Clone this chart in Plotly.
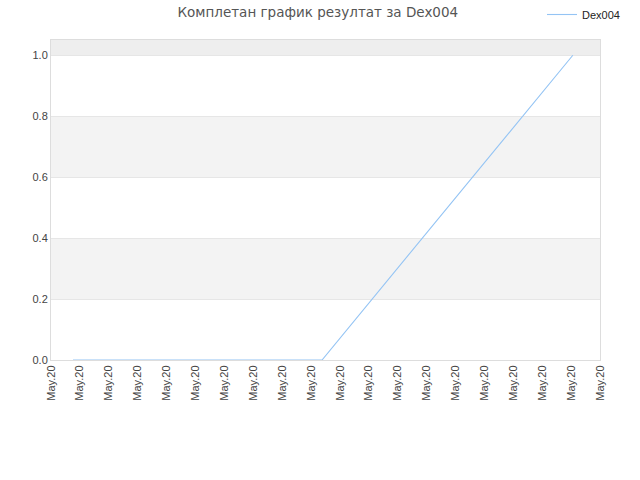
import plotly.graph_objects as go

tick_labels = ["May.20"] * 20
tick_positions = list(range(20))
series_x = [0.76, 9.38, 18.06]
series_y = [0.0, 0.0, 1.0]
series_name = "Dex004"
title_text = "Комплетан график резултат за Dex004"

fig = go.Figure()
fig.add_trace(go.Scatter(x=series_x, y=series_y, mode="lines", name=series_name,
                         line=dict(color="#94c4f4", width=1.1)))

bands = [(0.2, 0.4, "#f3f3f3"), (0.6, 0.8, "#f3f3f3"), (1.0, 1.05, "#eeeeee")]
for y0, y1, c in bands:
    fig.add_shape(type="rect", xref="paper", yref="y", x0=0, x1=1, y0=y0, y1=y1,
                  fillcolor=c, line_width=0, layer="below")

W, H = 640, 480
fig.update_layout(
    width=W, height=H,
    margin=dict(l=51, r=40, t=40, b=120, autoexpand=False),
    paper_bgcolor="white", plot_bgcolor="white",
    font=dict(family="Liberation Sans", size=11, color="#444"),
    title=dict(text=title_text, x=0.486, xanchor="center", xref="paper",
               y=1 - 12 / H, yanchor="middle",
               font=dict(family="DejaVu Sans", size=13.5, color="#555")),
    showlegend=True,
    legend=dict(xref="container", yref="container", x=542 / W, xanchor="left",
                y=1 + 5 / H, yanchor="top",
                font=dict(size=11, color="#222"), bgcolor="rgba(0,0,0,0)", itemwidth=30),
    xaxis=dict(range=[0, 19], tickvals=tick_positions, ticktext=tick_labels, tickangle=-90,
               showgrid=False, zeroline=False, showline=True, linecolor="#dddddd", mirror=True,
               ticks="", fixedrange=True),
    yaxis=dict(range=[0, 1.05], tickvals=[0, 0.2, 0.4, 0.6, 0.8, 1.0],
               ticktext=["0.0", "0.2", "0.4", "0.6", "0.8", "1.0"],
               showgrid=True, gridcolor="#e6e6e6", zeroline=False, showline=True,
               linecolor="#dddddd", mirror=True, ticks="", ticklen=0),
)

fig.write_html("out.html", config={"displayModeBar": False},
               post_script="document.body.style.margin='0';")
